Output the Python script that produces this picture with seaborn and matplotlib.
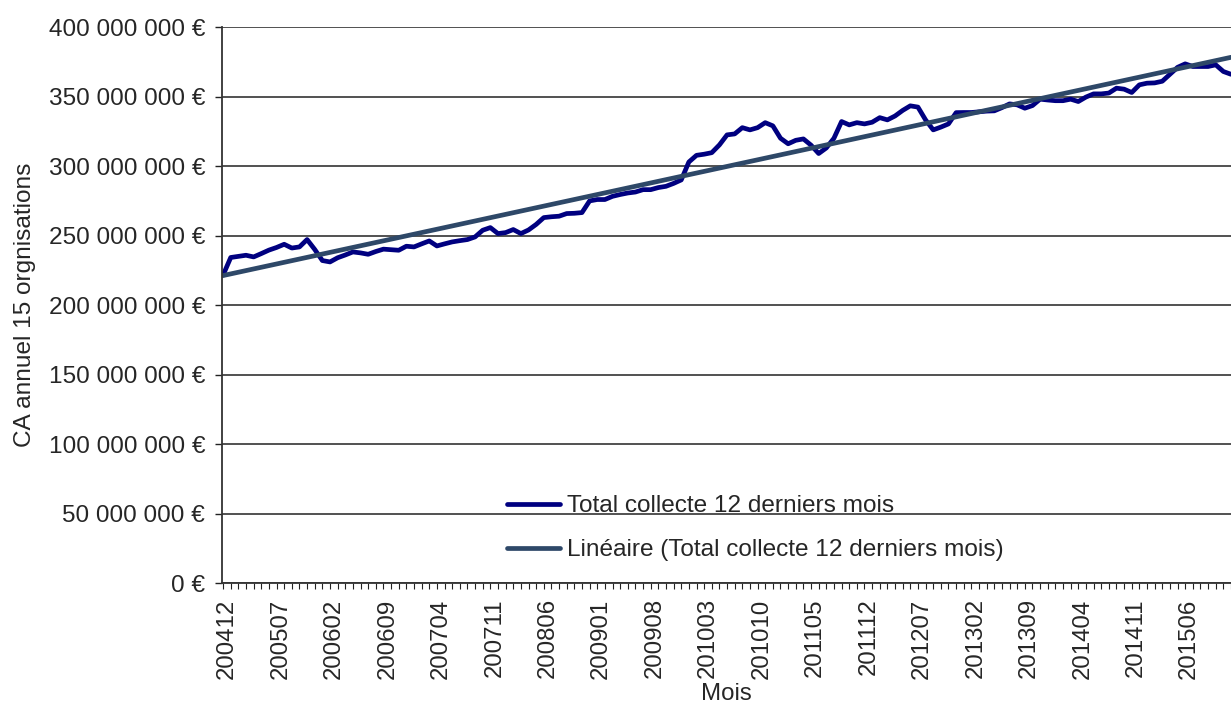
import matplotlib
matplotlib.use("Agg")
import matplotlib.pyplot as plt
import matplotlib.transforms as mtransforms
import numpy as np
import pandas as pd
import seaborn as sns
from matplotlib.ticker import FuncFormatter, MultipleLocator

# monthly rolling 12-month total, in millions of euros, starting 200412
collecte_m = [
    221.5, 234.2, 235.0, 235.8, 234.6, 237.0, 239.5, 241.4, 243.7, 241.0,
    241.8, 247.1, 240.0, 232.0, 231.0, 234.0, 236.0, 238.2, 237.5, 236.5,
    238.5, 240.2, 239.8, 239.4, 242.3, 241.8, 244.0, 246.1, 242.5, 244.0,
    245.4, 246.3, 247.1, 249.0, 253.8, 255.7, 251.4, 252.1, 254.3, 251.4,
    254.0, 258.0, 262.9, 263.5, 263.9, 265.8, 266.0, 266.5, 274.9, 275.9,
    275.9, 278.2, 279.5, 280.6, 281.3, 283.0, 283.0, 284.5, 285.4, 287.5,
    290.0, 302.9, 307.7, 308.5, 309.6, 315.2, 322.4, 323.1, 327.6, 326.0,
    327.6, 331.2, 328.9, 320.0, 316.0, 318.5, 319.5, 315.0, 309.0, 313.0,
    320.0, 332.0, 329.6, 331.2, 330.3, 331.5, 334.8, 333.2, 336.0, 340.0,
    343.3, 342.4, 333.2, 326.0, 328.0, 330.3, 338.4, 338.5, 338.5, 339.0,
    339.5, 339.7, 342.0, 344.7, 344.0, 341.6, 343.5, 348.1, 347.5, 347.0,
    347.0, 348.1, 346.4, 349.6, 351.9, 351.9, 352.5, 356.0, 355.3, 352.9,
    358.4, 359.6, 359.8, 361.0, 366.0, 371.0, 373.5, 371.6, 371.6, 371.6,
    372.8, 368.0, 366.0,
]

x_tick_labels = [
    "200412", "200507", "200602", "200609", "200704", "200711", "200806",
    "200901", "200908", "201003", "201010", "201105", "201112", "201207",
    "201302", "201309", "201404", "201411", "201506",
]

serie_label = "Total collecte 12 derniers mois"
trend_label = "Linéaire (Total collecte 12 derniers mois)"

sns.set_style("white")
plt.rcParams["font.family"] = ["Liberation Sans", "DejaVu Sans"]

values = np.array(collecte_m) * 1e6
idx = np.arange(len(values))
# Excel style linear trendline
slope, intercept = np.polyfit(idx, values, 1)

df = pd.DataFrame({"mois": idx, "collecte": values,
                   "tendance": intercept + slope * idx})

fig = plt.figure(figsize=(12.31, 7.13), dpi=100)
ax = fig.add_axes([0.1803, 0.1823, 0.8197, 0.7798])

sns.lineplot(data=df, x="mois", y="collecte", ax=ax, color="#000080",
             linewidth=3.4, label=serie_label)
sns.lineplot(data=df, x="mois", y="tendance", ax=ax, color="#2E4868",
             linewidth=3.4, label=trend_label)

fs = 17.3
ax.set_xlim(-0.15, 131.8)
ax.set_ylim(0, 400e6)
ax.yaxis.set_major_locator(MultipleLocator(50e6))
ax.yaxis.set_major_formatter(FuncFormatter(lambda v, p: f"{v:,.0f} €".replace(",", " ")))
ax.set_xticks(np.arange(0, 7 * len(x_tick_labels), 7))
ax.set_xticklabels(x_tick_labels, rotation=90)
ax.set_xticks(idx, minor=True)

ax.tick_params(axis="y", which="major", left=True, length=5.2, width=1,
               color="#222222", pad=7, labelsize=17.6)
ax.tick_params(axis="x", which="both", bottom=True, length=4, width=0.8,
               color="#222222", pad=7, labelsize=fs)

# labels sit a little to the right of their tick in the original
shift = mtransforms.ScaledTranslation(4 / 100, 0, fig.dpi_scale_trans)
for lab in ax.get_xticklabels():
    lab.set_transform(lab.get_transform() + shift)

ax.grid(axis="y", color="#222222", linewidth=1.1)
ax.grid(axis="x", visible=False)
ax.get_ygridlines()[-1].set_color("#999999")
ax.get_ygridlines()[-1].set_linewidth(1.5)
ax.set_axisbelow(True)

for side in ["top", "right"]:
    ax.spines[side].set_visible(False)
for side in ["left", "bottom"]:
    ax.spines[side].set_color("#333333")
    ax.spines[side].set_linewidth(1.3)

ax.set_xlabel("Mois", fontsize=fs, labelpad=3)
ax.set_ylabel("CA annuel 15 orgnisations", fontsize=17.6, labelpad=9)

ax.legend(loc="upper left", bbox_to_anchor=(0.2825, 0.158), frameon=False,
          fontsize=17.6, handlelength=2.15, handletextpad=0.3,
          labelspacing=0.9, borderpad=0, borderaxespad=0)

fig.savefig("out.png", dpi=100)
